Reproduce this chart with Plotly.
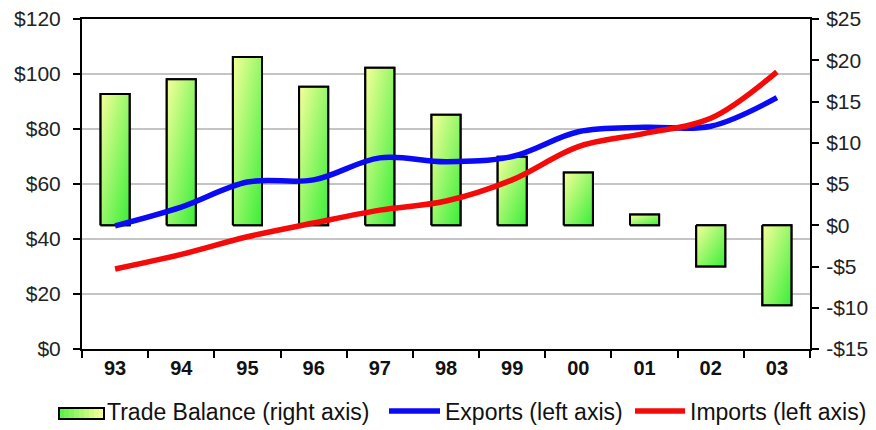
import plotly.graph_objects as go

# Years (two-digit labels) and series values, in billions of dollars
years = ["93", "94", "95", "96", "97", "98", "99", "00", "01", "02", "03"]
trade_balance = [15.9, 17.7, 20.4, 16.8, 19.1, 13.4, 8.3, 6.4, 1.3, -5.0, -9.7]
exports = [44.8, 51.6, 60.7, 61.5, 69.5, 68.1, 70.0, 79.0, 80.6, 81.0, 91.4]
imports = [29.1, 34.4, 40.8, 45.8, 50.5, 53.8, 61.5, 73.6, 78.4, 83.9, 100.8]

left_ticks = [0, 20, 40, 60, 80, 100, 120]
left_labels = ["$0", "$20", "$40", "$60", "$80", "$100", "$120"]
right_ticks = [-15, -10, -5, 0, 5, 10, 15, 20, 25]
right_labels = ["-$15", "-$10", "-$5", "$0", "$5", "$10", "$15", "$20", "$25"]

YELLOW = "#f6ff9a"
GREEN = "#38ee38"
FONT = "Liberation Sans, Arial, sans-serif"

W, H = 876, 430
ML, MR, MT, MB = 82, 66, 19, 81
PW, PH = W - ML - MR, H - MT - MB

half = 0.22  # half bar width, in category units
xpos = list(range(len(years)))

fig = go.Figure()

# Bars: a horizontal gradient base with a half-transparent vertical gradient
# on top gives a diagonal yellow-to-green fill.
for i, v in enumerate(trade_balance):
    bx = [i - half, i + half, i + half, i - half, i - half]
    by = [0, 0, v, v, 0]
    fig.add_trace(go.Scatter(
        x=bx, y=by, mode="lines", fill="toself",
        fillgradient=dict(type="horizontal",
                          colorscale=[[0, YELLOW], [1, GREEN]]),
        line=dict(color="black", width=2),
        legendgroup="tb", showlegend=False, hoverinfo="skip", yaxis="y",
    ))
    fig.add_trace(go.Scatter(
        x=bx, y=by, mode="lines", fill="toself",
        fillgradient=dict(type="vertical",
                          colorscale=[[0, "rgba(56,238,56,0.5)"],
                                      [1, "rgba(246,255,154,0.5)"]]),
        line=dict(color="black", width=2),
        legendgroup="tb", showlegend=False, hoverinfo="skip", yaxis="y",
    ))

# Legend entry for the bars (its swatch is drawn with shapes below)
fig.add_trace(go.Scatter(
    x=[None], y=[None], mode="lines",
    line=dict(color="rgba(0,0,0,0)", width=0),
    name="Trade Balance (right axis)", legendgroup="tb",
    showlegend=True, hoverinfo="skip", yaxis="y", legend="legend",
))

fig.add_trace(go.Scatter(
    x=xpos, y=exports, mode="lines", name="Exports (left axis)",
    line=dict(color="#0a0af5", width=5.5, shape="spline", smoothing=1),
    yaxis="y2", legend="legend2",
))
fig.add_trace(go.Scatter(
    x=xpos, y=imports, mode="lines", name="Imports (left axis)",
    line=dict(color="#f50a0a", width=5.5, shape="spline", smoothing=1),
    yaxis="y2", legend="legend3",
))


def px_to_paper_x(px):
    return (px - ML) / PW


def px_to_paper_y(py):
    return (H - MB - py) / PH


def mix(c1, c2, t):
    a = [int(c1[k:k + 2], 16) for k in (1, 3, 5)]
    b = [int(c2[k:k + 2], 16) for k in (1, 3, 5)]
    return "rgb({},{},{})".format(*[round(a[j] + (b[j] - a[j]) * t) for j in range(3)])


# Gradient swatch for the bar legend entry
sw_x0, sw_x1, sw_y0, sw_y1 = 59, 104, 408, 419
n_strips = 9
shapes = []
step = (sw_x1 - sw_x0) / n_strips
for k in range(n_strips):
    shapes.append(dict(
        type="rect", xref="paper", yref="paper",
        x0=px_to_paper_x(sw_x0 + k * step),
        x1=px_to_paper_x(sw_x0 + (k + 1) * step + 0.6),
        y0=px_to_paper_y(sw_y1), y1=px_to_paper_y(sw_y0),
        fillcolor=mix("#5cf24a", YELLOW, k / (n_strips - 1)),
        line=dict(width=0), layer="above",
    ))
shapes.append(dict(
    type="rect", xref="paper", yref="paper",
    x0=px_to_paper_x(sw_x0), x1=px_to_paper_x(sw_x1),
    y0=px_to_paper_y(sw_y1), y1=px_to_paper_y(sw_y0),
    line=dict(color="black", width=2), fillcolor="rgba(0,0,0,0)",
    layer="above",
))

tick_font = dict(family=FONT, size=21, color="#222222")
legend_font = dict(family=FONT, size=23, color="#111111")
legend_y = (H - 411) / H


def legend_at(px, itemwidth):
    return dict(
        orientation="h", xref="container", x=px / W, xanchor="left",
        yref="container", y=legend_y, yanchor="middle",
        font=legend_font, bgcolor="rgba(0,0,0,0)", borderwidth=0,
        itemwidth=itemwidth,
    )


fig.update_layout(
    width=W, height=H,
    margin=dict(l=ML, r=MR, t=MT, b=MB, autoexpand=False),
    paper_bgcolor="white", plot_bgcolor="white",
    font=dict(family=FONT, color="#111111"),
    shapes=shapes,
    xaxis=dict(
        range=[-0.5, len(years) - 0.5],
        tickmode="array", tickvals=xpos, ticktext=years,
        ticks="", showgrid=False, zeroline=False,
        tickfont=dict(family=FONT, size=20, color="#111111", weight="bold"),
        showline=True, linecolor="black", linewidth=2, mirror=True,
        minor=dict(tickmode="array",
                   tickvals=[i - 0.5 for i in range(len(years) + 1)],
                   ticks="outside", ticklen=7, tickwidth=2,
                   tickcolor="black", showgrid=False),
        fixedrange=True,
    ),
    yaxis=dict(
        side="right", range=[-15, 25],
        tickmode="array", tickvals=right_ticks, ticktext=right_labels,
        ticks="outside", ticklen=7, tickwidth=2, tickcolor="black",
        showline=True, linecolor="black", linewidth=2,
        showgrid=False, zeroline=False, tickfont=tick_font,
        ticklabelstandoff=3,
    ),
    yaxis2=dict(
        overlaying="y", side="left", range=[0, 120],
        tickmode="array", tickvals=left_ticks, ticktext=left_labels,
        ticks="outside", ticklen=7, tickwidth=2, tickcolor="black",
        showline=True, linecolor="black", linewidth=2,
        showgrid=True, gridcolor="#c4c4c4", gridwidth=2,
        zeroline=False, tickfont=tick_font,
        ticklabelstandoff=8,
    ),
    legend=legend_at(67, 30),
    legend2=legend_at(384, 51),
    legend3=legend_at(630, 50),
    showlegend=True,
)

fig.write_html("out.html")
